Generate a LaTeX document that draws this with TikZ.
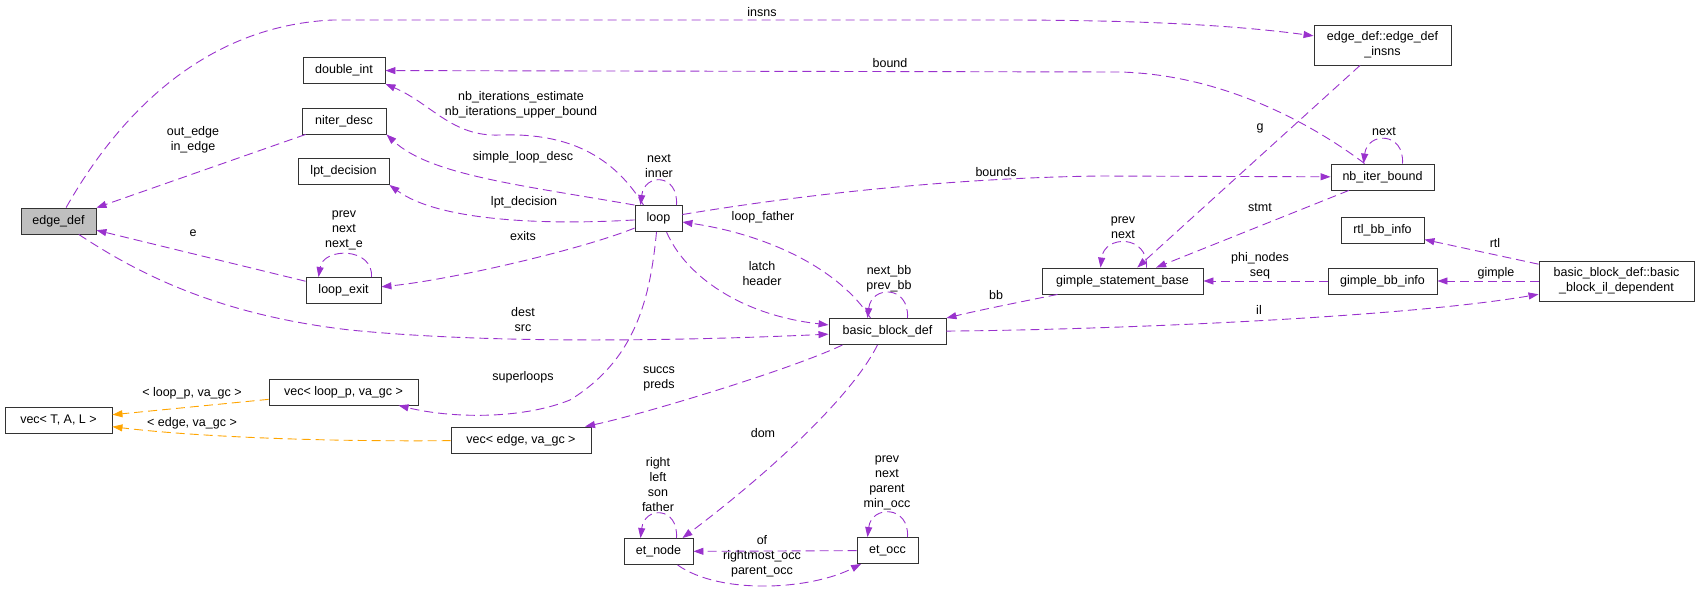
\documentclass[tikz,border=0pt]{standalone}
\usepackage{fontspec}
\setmainfont{Liberation Sans}
\usepackage{tikz}
\usetikzlibrary{arrows.meta, calc}
\definecolor{mempurple}{HTML}{9A32CD}
\definecolor{tplorange}{HTML}{FFA500}
\newcommand{\dxfont}{\fontsize{12.5}{15}\selectfont}

\begin{document}
\begin{tikzpicture}[x=1pt, y=-1pt,
        cls/.style={draw=black!80, line width=0.9pt, minimum height=26pt, inner sep=0pt, font=\dxfont, align=center},
        mem/.style={draw=mempurple, line width=0.9pt, dash pattern=on 9pt off 5pt, -{Triangle[length=10pt,width=7pt]}},
        tpl/.style={mem, draw=tplorange},
        lbl/.style={font=\dxfont, align=center, inner sep=0pt}]
        \useasboundingbox (0,0) rectangle (1701,591);

        \node[cls, fill=black!25, minimum width=75pt] (edgedef) at (58.5,221) {edge\_def};
        \node[cls, minimum width=82pt] (doubleint) at (344,70.5) {double\_int};
        \node[cls, minimum width=84pt] (niterdesc) at (344,121) {niter\_desc};
        \node[cls, minimum width=91pt] (lptdecision) at (343.5,171.5) {lpt\_decision};
        \node[cls, minimum width=75pt] (loopexit) at (343.5,290.5) {loop\_exit};
        \node[cls, minimum width=47pt] (loop) at (658.5,218.5) {loop};
        \node[cls, minimum width=107pt] (vectal) at (58.5,420) {vec< T, A, L >};
        \node[cls, minimum width=149pt] (vecloop) at (343.5,392) {vec< loop\_p, va\_gc >};
        \node[cls, minimum width=140pt] (vecedge) at (521,440) {vec< edge, va\_gc >};
        \node[cls, minimum width=117pt] (bbdef) at (887.5,331.5) {basic\_block\_def};
        \node[cls, minimum width=69pt] (etnode) at (658.5,551.5) {et\_node};
        \node[cls, minimum width=61pt] (etocc) at (887.5,550.5) {et\_occ};
        \node[cls, minimum width=161pt] (gsb) at (1122.5,281) {gimple\_statement\_base};
        \node[cls, minimum width=137pt, minimum height=40pt] (insns) at (1382.5,45) {edge\_def::edge\_def\\\_insns};
        \node[cls, minimum width=103pt] (nbiter) at (1382.5,177) {nb\_iter\_bound};
        \node[cls, minimum width=83pt] (rtlbb) at (1382.5,230.5) {rtl\_bb\_info};
        \node[cls, minimum width=109pt] (gbb) at (1382.5,281) {gimple\_bb\_info};
        \node[cls, minimum width=155pt, minimum height=40pt] (bbil) at (1616.5,281) {basic\_block\_def::basic\\\_block\_il\_dependent};

        \draw[mem] (edgedef) .. controls (130,95) and (220,25) .. (333,20) -- (1000,20) .. controls (1150,20) and (1240,26) .. (insns);
        \draw[mem] (nbiter) .. controls (1320,130) and (1230,75) .. (1120,72) -- (doubleint);
        \draw[mem] ([xshift=-15pt]loop.north) .. controls (610,150) and (560,133) .. (500,135) .. controls (452,137) and (432,104) .. (doubleint.south east);
        \draw[mem] (loop.north west) .. controls (520,185) and (430,175) .. (niterdesc.south east);
        \draw[mem] (loop) .. controls (550,225) and (440,222) .. (lptdecision.south east);
        \draw[mem] (loop) .. controls (580,250) and (450,280) .. (loopexit);
        \draw[mem] (loop) .. controls (800,195) and (950,178) .. (1100,176) -- (nbiter);
        \draw[mem] ([xshift=-17pt]bbdef.north) .. controls (840,270) and (770,235) .. (loop);
        \draw[mem] ([xshift=8pt]loop.south) .. controls (685,275) and (740,315) .. (bbdef);
        \draw[mem] ([xshift=-2pt]loop.south) .. controls (650,300) and (635,360) .. (570,400) .. controls (520,420) and (450,418) .. (vecloop);
        \draw[mem] (edgedef) .. controls (140,275) and (220,315) .. (350,330) .. controls (500,345) and (700,340) .. (bbdef);
        \draw[mem] ([xshift=14pt]bbdef.south west) .. controls (790,370) and (640,415) .. (vecedge);
        \draw[mem] ([xshift=-10pt]bbdef.south) .. controls (850,400) and (760,480) .. ([xshift=-11pt]etnode.north east);
        \draw[mem] (etocc) -- (etnode);
        \draw[mem] (etnode) .. controls (720,595) and (810,590) .. (etocc);
        \draw[mem] ([xshift=-65pt]gsb.south) .. controls (1020,302) and (980,310) .. (bbdef.north east);
        \draw[mem] (insns) -- (gsb);
        \draw[mem] (nbiter) .. controls (1300,210) and (1200,250) .. (gsb);
        \draw[mem] (gbb) -- (gsb);
        \draw[mem] (bbil) -- (rtlbb);
        \draw[mem] (bbil) -- (gbb);
        \draw[mem] (bbdef) .. controls (1100,330) and (1400,318) .. (bbil);
        \draw[mem] (niterdesc) -- (edgedef);
        \draw[mem] (loopexit) -- (edgedef);
        \draw[tpl] (vecloop) -- (vectal);
        \draw[tpl] (vecedge) .. controls (300,442) and (180,435) .. (vectal);

        \draw[mem] ([xshift=28pt]loopexit.north) .. controls +(2,-30) and +(5,-30) .. ([xshift=-25pt]loopexit.north);
        \draw[mem] ([xshift=18pt]loop.north) .. controls +(2,-32) and +(4,-32) .. ([xshift=-18pt]loop.north);
        \draw[mem] ([xshift=20pt]nbiter.north) .. controls +(2,-32) and +(4,-32) .. ([xshift=-19pt]nbiter.north);
        \draw[mem] ([xshift=24pt]gsb.north) .. controls +(2,-33) and +(4,-33) .. ([xshift=-22pt]gsb.north);
        \draw[mem] ([xshift=20pt]bbdef.north) .. controls +(2,-33) and +(4,-33) .. ([xshift=-20pt]bbdef.north);
        \draw[mem] ([xshift=18pt]etnode.north) .. controls +(2,-32) and +(4,-32) .. ([xshift=-18pt]etnode.north);
        \draw[mem] ([xshift=20pt]etocc.north) .. controls +(2,-32) and +(4,-32) .. ([xshift=-20pt]etocc.north);

        \node[lbl] (l-insns) at (762,12) {insns};
        \node[lbl] (l-bound) at (890,63) {bound};
        \node[lbl] (l-nbit) at (521,104.5) {nb\_iterations\_estimate\\nb\_iterations\_upper\_bound};
        \node[lbl] (l-simple) at (523,157) {simple\_loop\_desc};
        \node[lbl] (l-lpt) at (524,202) {lpt\_decision};
        \node[lbl] (l-exits) at (523,236) {exits};
        \node[lbl] (l-bounds) at (996,172) {bounds};
        \node[lbl] (l-father) at (763,217) {loop\_father};
        \node[lbl] (l-latch) at (762,274) {latch\\header};
        \node[lbl] (l-super) at (523,377) {superloops};
        \node[lbl] (l-dest) at (523,320) {dest\\src};
        \node[lbl] (l-succs) at (659,379) {succs\\preds};
        \node[lbl] (l-dom) at (763,433) {dom};
        \node[lbl] (l-of) at (762,556) {of\\rightmost\_occ\\parent\_occ};
        \node[lbl] (l-bb) at (996,295) {bb};
        \node[lbl] (l-g) at (1260,128) {g};
        \node[lbl] (l-stmt) at (1260,208) {stmt};
        \node[lbl] (l-phi) at (1260,266) {phi\_nodes\\seq};
        \node[lbl] (l-rtl) at (1495,243) {rtl};
        \node[lbl] (l-gimple) at (1496,273) {gimple};
        \node[lbl] (l-il) at (1259,310) {il};
        \node[lbl] (l-loopp) at (192,393) {< loop\_p, va\_gc >};
        \node[lbl] (l-edge) at (192,423) {< edge, va\_gc >};
        \node[lbl] (l-outedge) at (193,140) {out\_edge\\in\_edge};
        \node[lbl] (l-e) at (193,233) {e};
        \node[lbl] (l-lxself) at (344,230) {prev\\next\\next\_e};
        \node[lbl] (l-loopself) at (659,166) {next\\inner};
        \node[lbl] (l-nbself) at (1384,132) {next};
        \node[lbl] (l-gsbself) at (1123,228) {prev\\next};
        \node[lbl] (l-bbself) at (889,279) {next\_bb\\prev\_bb};
        \node[lbl] (l-etnself) at (658,484.5) {right\\left\\son\\father};
        \node[lbl] (l-etoself) at (887,483) {prev\\next\\parent\\min\_occ};
\end{tikzpicture}
\end{document}
